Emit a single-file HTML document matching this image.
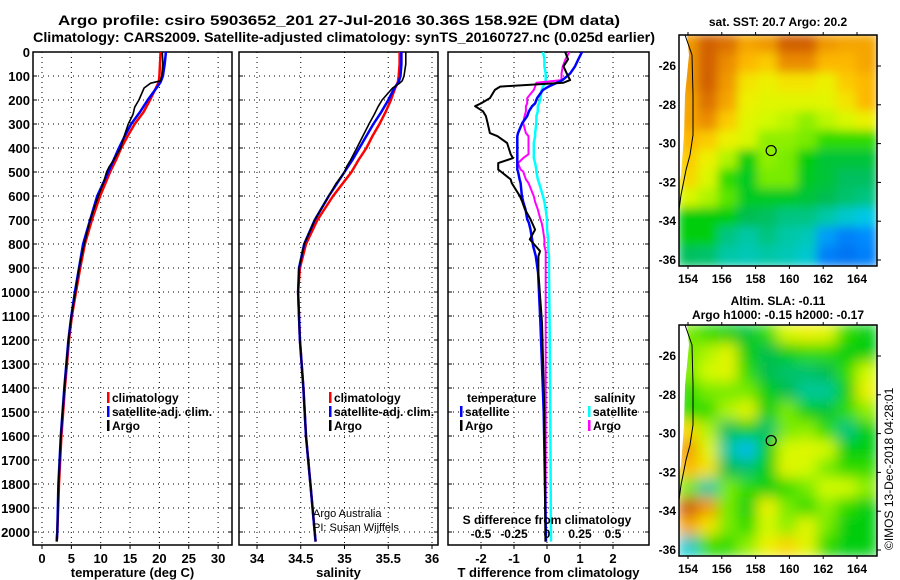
<!DOCTYPE html>
<html><head><meta charset="utf-8"><style>
body{margin:0;background:#fff}
svg{display:block;font-family:"Liberation Sans",sans-serif;font-weight:bold}
</style></head><body>
<svg id="s" width="900" height="580" viewBox="0 0 900 580" xmlns="http://www.w3.org/2000/svg">
<defs>
<clipPath id="c1"><rect x="33" y="52" width="199" height="493"/></clipPath>
<clipPath id="c2"><rect x="239" y="52" width="199" height="493"/></clipPath>
<clipPath id="c3"><rect x="448" y="52" width="201" height="493"/></clipPath>
<clipPath id="cm1"><rect x="679" y="35" width="198" height="231"/></clipPath>
<clipPath id="cm2"><rect x="679" y="325" width="198" height="231"/></clipPath>
<filter id="bl1"><feGaussianBlur stdDeviation="5"/></filter>
<filter id="bl2"><feGaussianBlur stdDeviation="7"/></filter>
</defs>
<text x="58" y="25" font-size="14" textLength="562" lengthAdjust="spacingAndGlyphs">Argo profile: csiro 5903652_201 27-Jul-2016 30.36S 158.92E (DM data)</text>
<text x="33" y="42" font-size="14" textLength="622" lengthAdjust="spacingAndGlyphs">Climatology: CARS2009. Satellite-adjusted climatology: synTS_20160727.nc (0.025d earlier)</text>
<g id="g"></g>
<text x="778" y="26" font-size="12" text-anchor="middle">sat. SST: 20.7 Argo: 20.2</text>
<text x="778" y="305" font-size="12" text-anchor="middle">Altim. SLA: -0.11</text>
<text x="778" y="319" font-size="12" text-anchor="middle">Argo h1000: -0.15 h2000: -0.17</text>
<text transform="translate(893,550) rotate(-90)" font-size="12" font-weight="normal">©IMOS 13-Dec-2018 04:28:01</text>
</svg>
<script>
// ---- data ----
const depthT = [0,50,100,125,150,200,250,300,350,400,450,500,600,700,800,900,1000,1100,1200,1400,1600,1800,2000,2040];
const tClim  = [20.2,20.1,20.0,19.9,19.4,18.4,17.3,15.8,14.6,13.5,12.6,11.6,9.9,8.5,7.3,6.5,5.8,5.1,4.6,3.9,3.3,2.9,2.6,2.5];
const tSat   = [21.1,20.9,20.6,20.2,19.5,18.0,16.7,15.2,14.1,13.1,12.2,11.3,9.4,8.2,7.0,6.3,5.6,5.0,4.5,3.8,3.2,2.8,2.6,2.5];
const depthArgo = [0,50,100,120,130,150,200,230,260,300,350,400,450,480,500,550,600,700,800,900,1000,1100,1200,1400,1600,1800,2000,2040];
const tArgo  = [20.5,20.6,20.4,20.2,18.5,17.4,16.5,15.8,15.5,14.7,14.0,13.4,12.2,11.4,11.0,10.4,9.6,8.2,7.2,6.3,5.7,5.0,4.5,3.8,3.2,2.8,2.6,2.5];
const sClim  = [35.63,35.63,35.62,35.61,35.58,35.53,35.47,35.40,35.32,35.25,35.16,35.08,34.87,34.69,34.56,34.49,34.47,34.48,34.49,34.53,34.56,34.61,34.66,34.67];
const sSat   = [35.65,35.65,35.64,35.62,35.57,35.50,35.42,35.33,35.25,35.17,35.09,35.00,34.82,34.66,34.54,34.48,34.47,34.48,34.49,34.53,34.56,34.61,34.66,34.67];
const sArgo  = [35.70,35.70,35.68,35.66,35.63,35.55,35.43,35.38,35.34,35.28,35.21,35.14,35.07,35.02,35.00,34.90,34.82,34.66,34.54,34.48,34.47,34.48,34.49,34.53,34.56,34.61,34.66,34.67];
const depthD = [0,30,60,90,117,128,144,158,192,214,226,247,267,296,338,351,379,426,442,463,490,498,531,546,601,624,656,697,712,740,781,808,830,851,920,1128,1500,2040];
const dTArgo = [0.55,0.64,0.5,0.6,0.7,0.5,-1.42,-1.58,-1.73,-2.0,-2.18,-1.94,-1.85,-1.8,-1.73,-1.5,-1.21,-1.1,-1.03,-1.48,-1.48,-1.4,-1.1,-1.07,-0.82,-0.75,-0.67,-0.5,-0.45,-0.36,-0.52,-0.35,-0.21,-0.26,-0.26,-0.15,-0.08,-0.05];
const dTSat  = [1.06,0.95,0.85,0.7,0.47,0.3,0.05,-0.12,-0.3,-0.36,-0.45,-0.55,-0.6,-0.75,-0.88,-0.9,-0.9,-0.9,-0.9,-0.9,-0.9,-0.88,-0.83,-0.8,-0.76,-0.72,-0.65,-0.6,-0.55,-0.5,-0.45,-0.42,-0.38,-0.34,-0.27,-0.2,-0.1,-0.03];
const dSArgo = [0.17,0.14,0.12,0.11,0.11,-0.08,-0.09,-0.1,-0.15,-0.15,-0.16,-0.16,-0.17,-0.18,-0.16,-0.14,-0.14,-0.14,-0.18,-0.22,-0.2,-0.18,-0.16,-0.14,-0.1,-0.09,-0.07,-0.05,-0.04,-0.03,-0.02,-0.02,-0.01,-0.01,-0.01,-0.01,-0.01,-0.01];
const dSSat  = [-0.03,-0.02,-0.02,-0.01,-0.01,-0.01,-0.03,-0.04,-0.05,-0.06,-0.07,-0.07,-0.08,-0.08,-0.09,-0.09,-0.1,-0.1,-0.1,-0.09,-0.08,-0.08,-0.07,-0.06,-0.03,-0.02,-0.01,0,0,0,0.01,0.01,0.01,0.015,0.015,0.02,0.025,0.03];
const depthTicks = [0,100,200,300,400,500,600,700,800,900,1000,1100,1200,1300,1400,1500,1600,1700,1800,1900,2000];
const tTicks = [0,5,10,15,20,25,30];
const sTicks = [34,34.5,35,35.5,36];
const dTTicks = [-2,-1,0,1,2];
const dSTicks = [-0.5,-0.25,0,0.25,0.5];
const dSLabels = ["-0.5","-0.25","0","0.25","0.5"];
const latTicks = [-26,-28,-30,-32,-34,-36];
const lonTicks = [154,156,158,160,162,164];
const sstGrid = [
[0.9,0.97,0.95,0.88,0.9,0.97,0.97,0.9,0.88,0.88],
[0.9,0.97,0.92,0.85,0.82,0.92,0.92,0.85,0.85,0.88],
[0.9,0.97,0.9,0.78,0.75,0.78,0.78,0.75,0.82,0.85],
[0.88,0.95,0.88,0.75,0.72,0.72,0.72,0.72,0.78,0.85],
[0.88,0.92,0.82,0.72,0.68,0.66,0.62,0.66,0.7,0.75],
[0.85,0.82,0.75,0.7,0.62,0.62,0.6,0.55,0.55,0.55],
[0.82,0.75,0.65,0.5,0.62,0.6,0.5,0.45,0.45,0.45],
[0.8,0.7,0.55,0.48,0.6,0.6,0.48,0.45,0.4,0.4],
[0.7,0.65,0.58,0.48,0.48,0.48,0.45,0.42,0.38,0.35],
[0.5,0.5,0.5,0.42,0.4,0.35,0.35,0.3,0.25,0.22],
[0.5,0.5,0.35,0.3,0.35,0.3,0.28,0.15,0.1,0.12],
[0.4,0.38,0.3,0.28,0.3,0.28,0.25,0.1,0.08,0.1]];
const slaGrid = [
[0.6,0.55,0.5,0.45,0.55,0.7,0.75,0.72,0.55,0.5],
[0.6,0.65,0.72,0.5,0.42,0.5,0.55,0.55,0.5,0.5],
[0.6,0.68,0.72,0.55,0.42,0.38,0.38,0.42,0.55,0.68],
[0.55,0.6,0.6,0.6,0.5,0.42,0.32,0.32,0.5,0.75],
[0.55,0.55,0.65,0.72,0.5,0.6,0.5,0.45,0.55,0.62],
[0.8,0.65,0.4,0.5,0.38,0.6,0.62,0.55,0.35,0.5],
[0.9,0.72,0.3,0.2,0.5,0.68,0.72,0.68,0.5,0.5],
[0.85,0.78,0.42,0.38,0.5,0.72,0.68,0.6,0.55,0.55],
[0.6,0.3,0.6,0.55,0.5,0.55,0.6,0.68,0.68,0.62],
[0.98,0.9,0.6,0.5,0.75,0.6,0.55,0.62,0.55,0.5],
[0.88,0.78,0.6,0.55,0.68,0.62,0.72,0.6,0.5,0.5],
[0.25,0.55,0.55,0.62,0.75,0.8,0.72,0.55,0.5,0.5]];

// ---- scales ----
const Y = d => 52 + d*0.24;
const XT = t => 42 + t*5.87;
const XS = s => 257 + (s-34)*87.5;
const XD = t => 547 + t*33;
const XDS = s => 547 + s*132;
const LON = l => 688 + (l-154)*16.9;
const LAT1 = la => 66 + (-26-la)*19.4;
const LAT2 = la => 356 + (-26-la)*19.4;

const NS="http://www.w3.org/2000/svg";
const G=document.getElementById('g');
function mk(tag,at,par){const e=document.createElementNS(NS,tag);for(const k in at)e.setAttribute(k,at[k]);(par||G).appendChild(e);return e;}
function txt(x,y,s,sz,anchor,par){const e=mk('text',{x:x,y:y,'font-size':sz,'text-anchor':anchor||'middle'},par);e.textContent=s;return e;}

function panel(x0,x1,name,clip,xticks,xfn,labels,xlabel){
  const grp=mk('g',{});
  
  
  depthTicks.forEach(d=>{const l=mk('line',{x1:x0,x2:x1,y1:Y(d),y2:Y(d),stroke:'#000','stroke-dasharray':'1,4'},grp);
    
    mk('line',{x1:x0,x2:x0+4,y1:Y(d),y2:Y(d),stroke:'#000'},grp);mk('line',{x1:x1,x2:x1-4,y1:Y(d),y2:Y(d),stroke:'#000'},grp);});
  xticks.forEach((t,i)=>{const x=xfn(t);
    const l=mk('line',{x1:x,x2:x,y1:52,y2:545,stroke:'#000','stroke-dasharray':'1,4'},grp);
    
    mk('line',{x1:x,x2:x,y1:545,y2:549,stroke:'#000'},grp);
    if(labels){const tl=txt(x,563,labels[i],13,'middle',grp);}});
  const r=mk('rect',{x:x0,y:52,width:x1-x0,height:493,fill:'none',stroke:'#000','stroke-width':1.5},grp);
  
  const xl=txt((x0+x1)/2,577,xlabel,13,'middle',grp);
  
  return grp;
}
function series(xs,ds,xfn,color,w,clip,name){
  const p=xs.map((v,i)=>(i?'L':'M')+xfn(v).toFixed(1)+','+Y(ds[i]).toFixed(1)).join('');
  const e=mk('path',{d:p,fill:'none',stroke:color,'stroke-width':w,'clip-path':'url(#'+clip+')','stroke-linejoin':'round'});
  
  
}

panel(33,232,'temperature-panel','c1',tTicks,XT,tTicks.map(String),'temperature (deg C)');
panel(239,438,'salinity-panel','c2',sTicks,XS,sTicks.map(String),'salinity');
panel(448,649,'difference-panel','c3',dTTicks,XD,dTTicks.map(String),'T difference from climatology');

depthTicks.forEach(d=>{const e=txt(30,Y(d)+5,String(d),13,'end');
  
  });

series(tClim,depthT,XT,'#f00',2.5,'c1','temp-climatology-line');
series(tSat,depthT,XT,'#00f',2.5,'c1','temp-satellite-line');
series(tArgo,depthArgo,XT,'#000',1.6,'c1','temp-argo-line');
series(sClim,depthT,XS,'#f00',2.5,'c2','sal-climatology-line');
series(sSat,depthT,XS,'#00f',2.5,'c2','sal-satellite-line');
series(sArgo,depthArgo,XS,'#000',1.6,'c2','sal-argo-line');
series(dSSat,depthD,XDS,'#0ff',2.5,'c3','s-diff-satellite-line');
series(dSArgo,depthD,XDS,'#f0f',2,'c3','s-diff-argo-line');
series(dTSat,depthD,XD,'#00f',2.5,'c3','t-diff-satellite-line');
series(dTArgo,depthD,XD,'#000',2,'c3','t-diff-argo-line');

// legends
function legend(x,y,items,name){
  const grp=mk('g',{});
  
  
  items.forEach((it,i)=>{const yy=y+i*14;
    mk('rect',{x:x,y:yy-10,width:2.5,height:11,fill:it[1]},grp);
    if(it[0])txt(x+5,yy,it[0],12,'start',grp);});
}
legend(107,402,[['climatology','#f00'],['satellite-adj. clim.','#00f'],['Argo','#000']],'temp-legend');
legend(329,402,[['climatology','#f00'],['satellite-adj. clim.','#00f'],['Argo','#000']],'sal-legend');
{const t=txt(467,402,'temperature',12,'start');}
legend(460,416,[['satellite','#00f'],['Argo','#000']],'t-diff-legend');
{const t=txt(594,402,'salinity',12,'start');}
legend(588,416,[['satellite','#0ff'],['Argo','#f0f']],'s-diff-legend');
{const a=txt(313,517,'Argo Australia',11,'start');a.setAttribute('font-weight','normal');
 const b=txt(313,531,'PI: Susan Wijffels',11,'start');b.setAttribute('font-weight','normal');}
{const a=txt(547,524,'S difference from climatology',12);}
dSTicks.forEach((s,i)=>{const e=txt(XDS(s),538,dSLabels[i],12);});

// colormap
const stops=[[0,[0,70,220]],[0.12,[0,140,255]],[0.22,[0,200,230]],[0.32,[0,200,150]],[0.42,[0,190,80]],[0.52,[0,210,0]],[0.6,[120,235,0]],[0.68,[210,250,0]],[0.76,[240,240,0]],[0.84,[255,190,0]],[0.92,[235,140,0]],[1,[195,70,10]]];
function cmap(v){for(let i=1;i<stops.length;i++){if(v<=stops[i][0]){const a=stops[i-1],b=stops[i],f=(v-a[0])/(b[0]-a[0]);return 'rgb('+a[1].map((c,k)=>Math.round(c+(b[1][k]-c)*f)).join(',')+')';}}return 'rgb(195,70,10)';}
function map(grid,top,clip,filt,name,latf){
  const grp=mk('g',{'clip-path':'url(#'+clip+')'});
  
  
  const inner=mk('g',{filter:'url(#'+filt+')'},grp);
  const rows=grid.length,cols=grid[0].length,cw=198/cols,ch=231/rows;
  grid.forEach((row,r)=>row.forEach((v,c)=>{
    const e=mk('rect',{x:679+c*cw-1,y:top+r*ch-1,width:cw+2,height:ch+2,fill:cmap(v)},inner);
    
    }));
  const land=mk('path',{d:`M679,${top} L687,${top} L689,${top+20} L685,${top+60} L684,${top+100} L681,${top+140} L679,${top+150} Z`,fill:'#fff'},grp);
  
  const cl=mk('path',{d:`M685,${top} L692,${top+20} L693,${top+60} L693,${top+100} L690,${top+120} L686,${top+135} L681,${top+160} L679,${top+175}`,fill:'none',stroke:'#000','stroke-width':1},grp);
  
  const cc=mk('circle',{cx:LON(158.92),cy:latf(-30.36),r:5,fill:'none',stroke:'#000','stroke-width':1.2},grp);
  
  const fr=mk('rect',{x:679,y:top,width:198,height:231,fill:'none',stroke:'#000','stroke-width':1.5});
  
  latTicks.forEach(la=>{const y=latf(la);mk('line',{x1:877,x2:881,y1:y,y2:y,stroke:'#000'});
    const e=txt(676,y+4,String(la),12,'end');});
  lonTicks.forEach(lo=>{const x=LON(lo);mk('line',{x1:x,x2:x,y1:top,y2:top-3,stroke:'#000'});mk('line',{x1:x,x2:x,y1:top+231,y2:top+234,stroke:'#000'});
    const e=txt(x,top+248,String(lo),12);});
}
map(sstGrid,35,'cm1','bl1','sst-map',LAT1);
map(slaGrid,325,'cm2','bl2','sla-map',LAT2);
</script>
</body></html>
